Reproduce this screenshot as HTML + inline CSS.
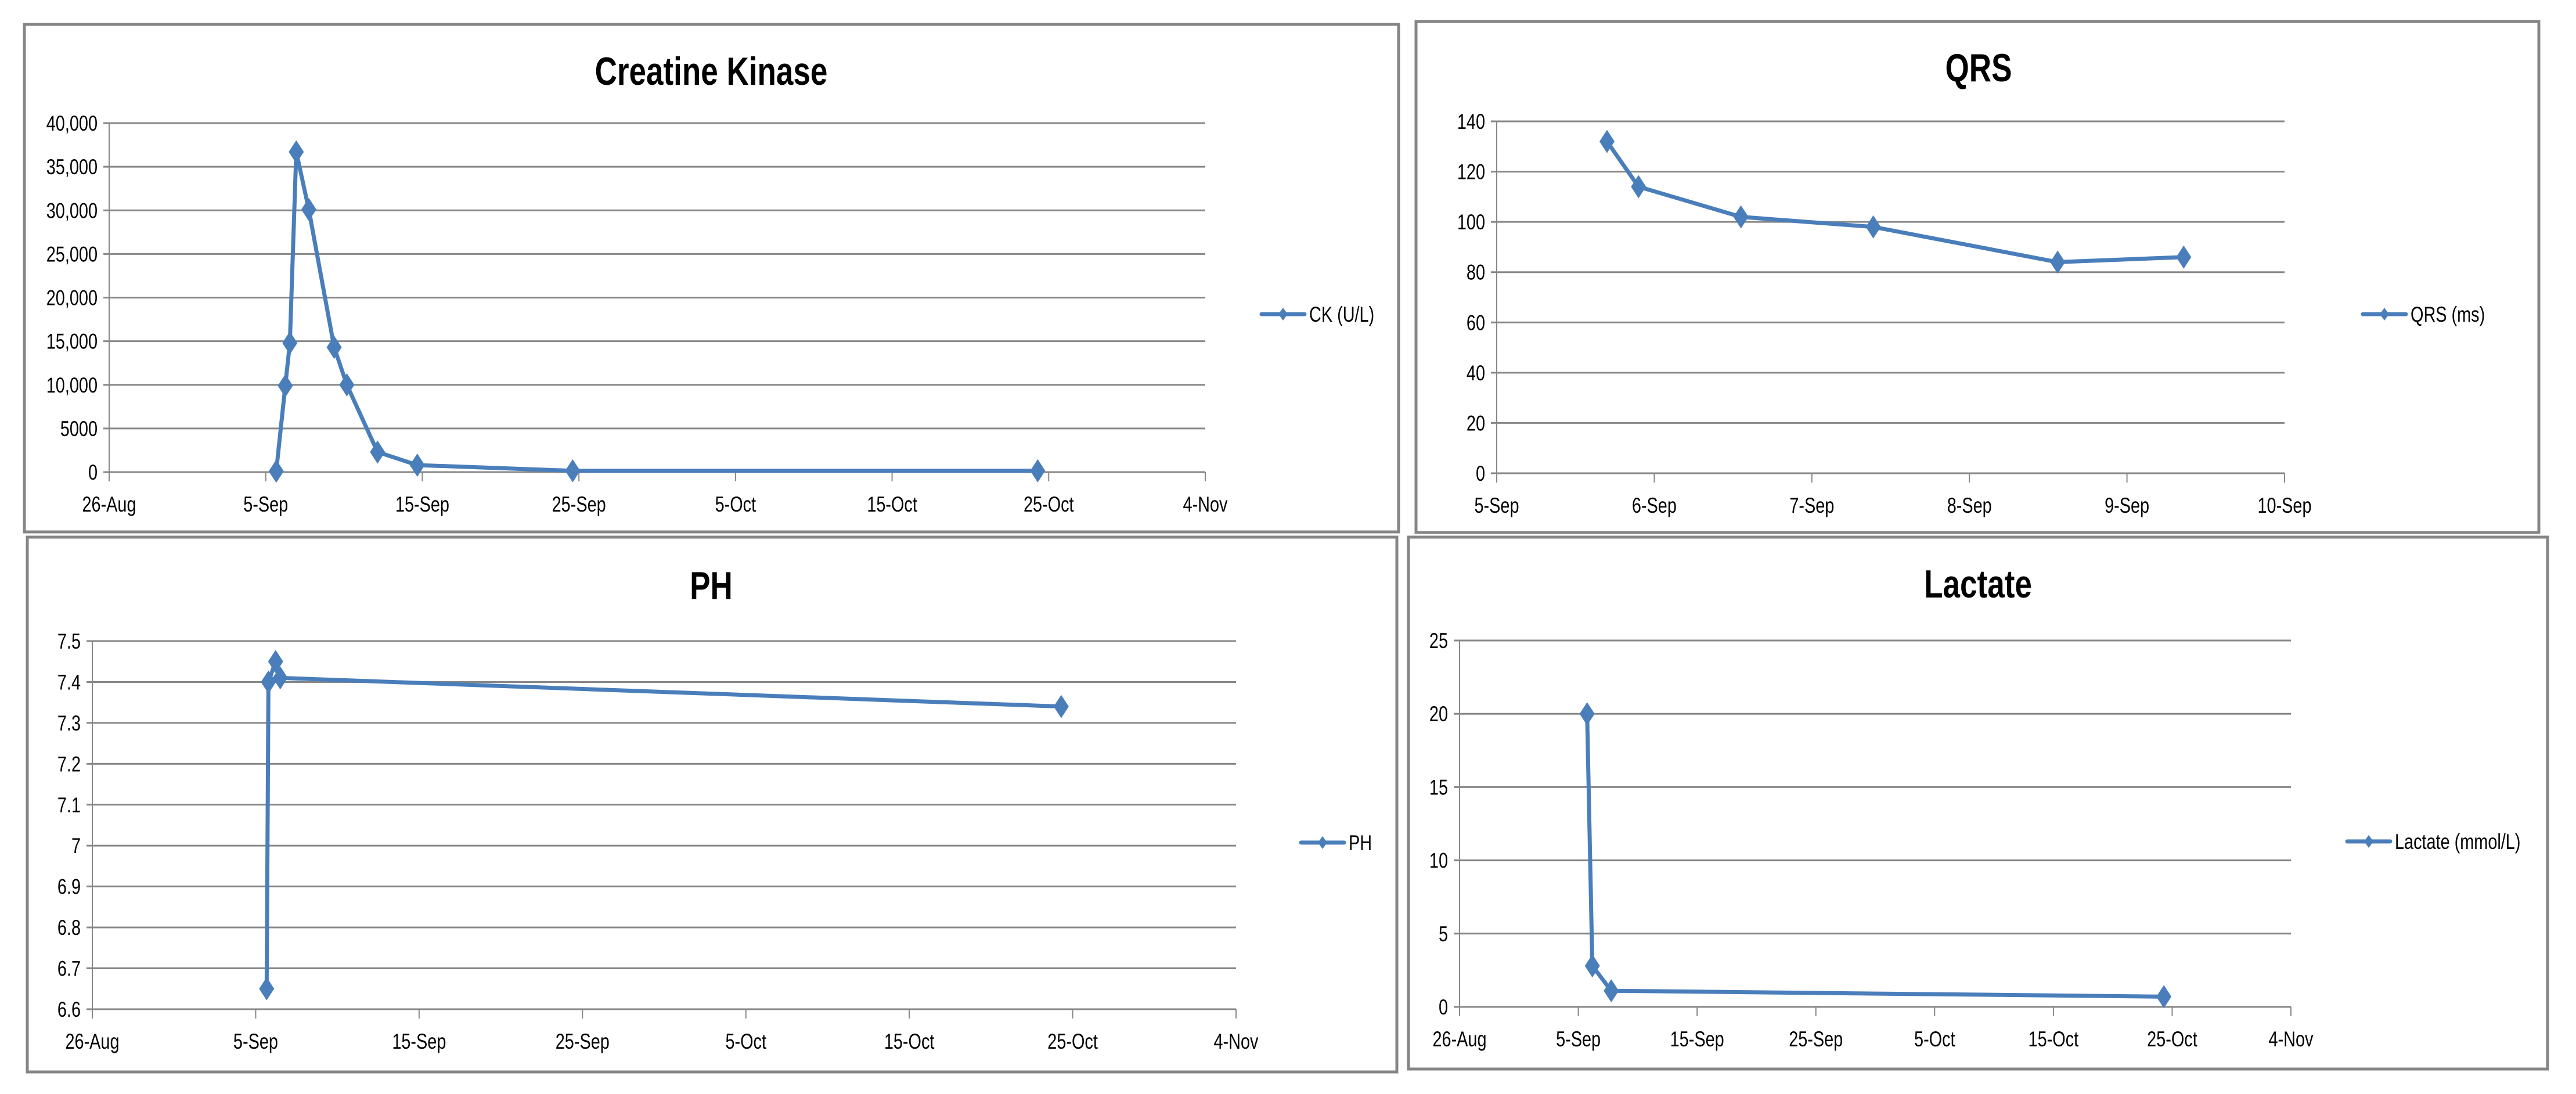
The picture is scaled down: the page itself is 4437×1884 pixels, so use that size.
<!DOCTYPE html>
<html><head><meta charset="utf-8"><style>
html,body{margin:0;padding:0;background:#fff;}
svg{display:block;}
text{font-family:"Liberation Sans Narrow","Liberation Sans",sans-serif;fill:#000;}
</style></head><body>
<svg id="root" width="4437" height="1884" viewBox="0 0 4437 1884" xmlns="http://www.w3.org/2000/svg"></svg>
<script>
// ---- Creatine Kinase data (days since 26-Aug) ----
const ckDays = [10.67, 11.25, 11.54, 11.95, 12.75, 14.37, 15.18, 17.14, 19.68, 29.6, 59.3];
const ckValues = [100, 9900, 14800, 36700, 30100, 14300, 10000, 2300, 800, 150, 150];
const ckYTicks = [0, 5000, 10000, 15000, 20000, 25000, 30000, 35000, 40000];
const ckYLabels = ["0","5000","10,000","15,000","20,000","25,000","30,000","35,000","40,000"];
const longXLabels = ["26-Aug","5-Sep","15-Sep","25-Sep","5-Oct","15-Oct","25-Oct","4-Nov"];
const longXTicks = [0, 10, 20, 30, 40, 50, 60, 70];
// ---- QRS data (days since 5-Sep) ----
const qrsDays = [0.70, 0.90, 1.55, 2.39, 3.56, 4.36];
const qrsValues = [132, 114, 102, 98, 84, 86];
const qrsYTicks = [0, 20, 40, 60, 80, 100, 120, 140];
const qrsXTicks = [0, 1, 2, 3, 4, 5];
const qrsXLabels = ["5-Sep","6-Sep","7-Sep","8-Sep","9-Sep","10-Sep"];
// ---- PH data (days since 26-Aug) ----
const phDays = [10.67, 10.78, 11.22, 11.5, 59.3];
const phValues = [6.65, 7.40, 7.45, 7.41, 7.34];
const phYTicks = [6.6, 6.7, 6.8, 6.9, 7.0, 7.1, 7.2, 7.3, 7.4, 7.5];
const phYLabels = ["6.6","6.7","6.8","6.9","7","7.1","7.2","7.3","7.4","7.5"];
// ---- Lactate data (days since 26-Aug) ----
const lacDays = [10.74, 11.18, 12.77, 59.3];
const lacValues = [20, 2.8, 1.1, 0.7];
const lacYTicks = [0, 5, 10, 15, 20, 25];

const NS = "http://www.w3.org/2000/svg";
const root = document.getElementById('root');
function mk(tag, attrs, parent){
  const e = document.createElementNS(NS, tag);
  for (const k in attrs) e.setAttribute(k, attrs[k]);
  parent.appendChild(e); return e;
}
function txt(parent, x, y, s, size, anchor, bold){
  const e = mk('text', {x:0, y:0, 'text-anchor':anchor, 'font-size':size, transform:`translate(${x},${y}) scale(0.78,1)`}, parent);
  if (bold) e.setAttribute('font-weight','bold');
  e.textContent = s;
  return e;
}
const BLUE = "#4a7ebb";

function chart(cfg){
  const g = mk('g', {}, root);
  
  
  const box = mk('rect', {x:cfg.box[0], y:cfg.box[1], width:cfg.box[2]-cfg.box[0], height:cfg.box[3]-cfg.box[1], fill:'#fff', stroke:'#858585', 'stroke-width':5}, g);
  
  
  const t = txt(g, cfg.titleX, cfg.titleY, cfg.title, 68, 'middle', true);
  
  
  const [L,R,T,B] = cfg.plot;
  const xs = d => L + (d - cfg.xMin) / (cfg.xMax - cfg.xMin) * (R - L);
  const ys = v => B - (v - cfg.yMin) / (cfg.yMax - cfg.yMin) * (B - T);
  cfg.yTicks.forEach((v,i)=>{
    const y = ys(v);
    const gl = mk('line', {x1:L-10, x2:R, y1:y, y2:y, stroke:'#878787', 'stroke-width':3}, g);
    
    
    const lb = txt(g, L-20, y+13, cfg.yLabels ? cfg.yLabels[i] : String(v), 37, 'end');
    
    
  });
  const ax = mk('line', {x1:L, x2:L, y1:T, y2:B+16, stroke:'#878787', 'stroke-width':2}, g);
  
  
  cfg.xTicks.forEach((d,i)=>{
    const x = xs(d);
    const tk = mk('line', {x1:x, x2:x, y1:B, y2:B+16, stroke:'#878787', 'stroke-width':2}, g);
    
    
    const lb = txt(g, x, B+68, cfg.xLabels[i], 37, 'middle');
    
    
  });
  const pts = cfg.days.map((d,i)=>[xs(d), ys(cfg.values[i])]);
  const ln = mk('polyline', {points: pts.map(p=>p.join(',')).join(' '), fill:'none', stroke:BLUE, 'stroke-width':7, 'stroke-linejoin':'round'}, g);
  
  
  pts.forEach(p=>{
    const m = mk('polygon', {points:`${p[0]},${p[1]-20} ${p[0]+13},${p[1]} ${p[0]},${p[1]+20} ${p[0]-13},${p[1]}`, fill:BLUE}, g);
    
    
  });
  const lg = mk('g', {}, g);
  
  
  const [lx, ly] = cfg.legend;
  mk('line', {x1:lx, x2:lx+74, y1:ly, y2:ly, stroke:BLUE, 'stroke-width':7, 'stroke-linecap':'round'}, lg);
  mk('polygon', {points:`${lx+37},${ly-11} ${lx+45},${ly} ${lx+37},${ly+11} ${lx+29},${ly}`, fill:BLUE}, lg);
  txt(lg, lx+82, ly+13, cfg.legendText, 37, 'start');
}

chart({name:'creatine-kinase-chart', box:[42,42,2409,916], title:'Creatine Kinase', titleX:1225, titleY:146,
  plot:[188,2076,212,813], xMin:0, xMax:70, yMin:0, yMax:40000,
  yTicks:ckYTicks, yLabels:ckYLabels, xTicks:longXTicks, xLabels:longXLabels,
  days:ckDays, values:ckValues, legend:[2173,541], legendText:'CK (U/L)'});
chart({name:'qrs-chart', box:[2439,37,4373,917], title:'QRS', titleX:3408, titleY:140,
  plot:[2578,3935,209,815], xMin:0, xMax:5, yMin:0, yMax:140,
  yTicks:qrsYTicks, xTicks:qrsXTicks, xLabels:qrsXLabels,
  days:qrsDays, values:qrsValues, legend:[4070,541], legendText:'QRS (ms)'});
chart({name:'ph-chart', box:[47,925,2406,1846], title:'PH', titleX:1225, titleY:1032,
  plot:[159,2129,1104,1738], xMin:0, xMax:70, yMin:6.6, yMax:7.5,
  yTicks:phYTicks, yLabels:phYLabels, xTicks:longXTicks, xLabels:longXLabels,
  days:phDays, values:phValues, legend:[2241,1451], legendText:'PH'});
chart({name:'lactate-chart', box:[2426,925,4388,1841], title:'Lactate', titleX:3407, titleY:1029,
  plot:[2514,3946,1103,1734], xMin:0, xMax:70, yMin:0, yMax:25,
  yTicks:lacYTicks, xTicks:longXTicks, xLabels:longXLabels,
  days:lacDays, values:lacValues, legend:[4043,1449], legendText:'Lactate (mmol/L)'});
</script>
</body></html>
